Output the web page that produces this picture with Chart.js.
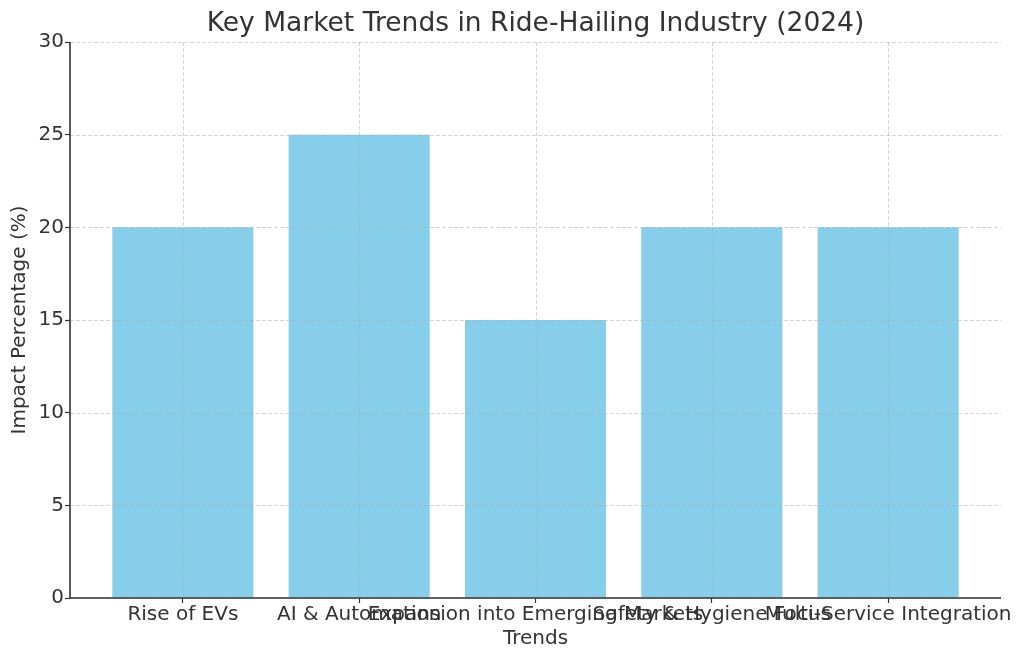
<!DOCTYPE html>
<html>
<head>
<meta charset="utf-8">
<title>Key Market Trends in Ride-Hailing Industry (2024)</title>
<script src="https://cdn.jsdelivr.net/npm/chart.js@4/dist/chart.umd.min.js"></script>
<style>
  html, body { margin: 0; padding: 0; background: #fff; }
  #wrap { width: 1024px; height: 662px; }
</style>
</head>
<body>
<div id="wrap"><canvas id="trendsChart" width="1024" height="662"></canvas></div>
<script>
// ====== Data ======
const trends = [
  'Rise of EVs',
  'AI & Automation',
  'Expansion into Emerging Markets',
  'Safety & Hygiene Focus',
  'Multi-Service Integration'
];
const impactPct = [20, 25, 15, 20, 20];
const yTicks = [0, 5, 10, 15, 20, 25, 30];

const FONT = 'DejaVu Sans, sans-serif';
const TEXT = '#333333';
const GRID = 'rgba(170,170,170,0.55)';

// grid above the bars + spines on top (matplotlib look)
const gridOnTop = {
  id: 'gridOnTop',
  afterDatasetsDraw(chart) {
    const { ctx, chartArea: a, scales: { x, y } } = chart;
    ctx.save();
    ctx.strokeStyle = GRID;
    ctx.lineWidth = 0.9;
    ctx.setLineDash([4, 2]);
    ctx.beginPath();
    trends.forEach((_, i) => {
      const px = Math.round(x.getPixelForValue(i)) + 0.5;
      ctx.moveTo(px, a.top); ctx.lineTo(px, a.bottom);
    });
    yTicks.forEach(v => {
      const py = Math.round(y.getPixelForValue(v)) + 0.5;
      ctx.moveTo(a.left, py); ctx.lineTo(a.right, py);
    });
    ctx.stroke();
    ctx.setLineDash([]);
    ctx.strokeStyle = TEXT;
    ctx.lineWidth = 1.6;
    ctx.beginPath();
    ctx.moveTo(a.left, a.top);
    ctx.lineTo(a.left, a.bottom);
    ctx.lineTo(a.right, a.bottom);
    ctx.stroke();
    ctx.restore();
  }
};

new Chart(document.getElementById('trendsChart'), {
  type: 'bar',
  data: {
    datasets: [{
      label: 'Impact Percentage (%)',
      data: trends.map((t, i) => ({ x: i, y: impactPct[i] })),
      backgroundColor: '#87CEEB',
      borderWidth: 0,
      barPercentage: 0.8,
      categoryPercentage: 1.0
    }]
  },
  options: {
    responsive: false,
    animation: false,
    layout: { padding: { left: 0, right: 23, top: 0, bottom: 0 } },
    plugins: {
      legend: { display: false },
      tooltip: { enabled: false },
      title: {
        display: true,
        fullSize: false,   // centre over the plot area, not the canvas
        text: 'Key Market Trends in Ride-Hailing Industry (2024)',
        color: TEXT,
        font: { family: FONT, size: 26.5, weight: 'normal' },
        padding: { top: 8, bottom: 2.2 }
      }
    },
    scales: {
      x: {
        type: 'linear',
        offset: false,
        min: -0.64,
        max: 4.64,
        afterBuildTicks: (axis) => { axis.ticks = trends.map((_, i) => ({ value: i })); },
        afterFit: (axis) => { axis.height = 64; axis.paddingLeft = 0; axis.paddingRight = 0; },
        border: { display: false },
        grid: { offset: false, drawOnChartArea: false, tickColor: TEXT, tickLength: 5, tickWidth: 1.2 },
        ticks: {
          autoSkip: false,
          maxRotation: 0,
          minRotation: 0,
          padding: 0,
          color: TEXT,
          font: { family: FONT, size: 20 },
          callback: (v) => trends[v] ?? ''
        },
        title: {
          display: true,
          text: 'Trends',
          color: TEXT,
          font: { family: FONT, size: 20 },
          padding: { top: 0, bottom: 11 }
        }
      },
      y: {
        min: 0,
        max: 30,
        afterBuildTicks: (axis) => { axis.ticks = yTicks.map(v => ({ value: v })); },
        afterFit: (axis) => { axis.width = 70; axis.paddingTop = 0; axis.paddingBottom = 0; },
        border: { display: false },
        grid: { drawOnChartArea: false, tickColor: TEXT, tickLength: 5, tickWidth: 1.2 },
        ticks: {
          padding: 1,
          color: TEXT,
          font: { family: FONT, size: 20 }
        },
        title: {
          display: true,
          text: 'Impact Percentage (%)',
          color: TEXT,
          font: { family: FONT, size: 20 },
          padding: { top: 8, bottom: 0 }
        }
      }
    }
  },
  plugins: [gridOnTop]
});
</script>
</body>
</html>
